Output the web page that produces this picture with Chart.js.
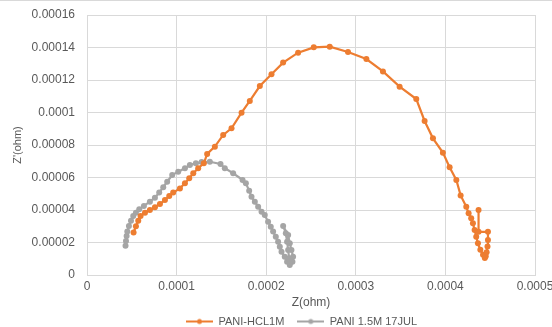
<!DOCTYPE html>
<html>
<head>
<meta charset="utf-8">
<script src="https://cdn.jsdelivr.net/npm/chart.js@4.4.0/dist/chart.umd.min.js"></script>
<style>
  html, body { margin: 0; padding: 0; background: #fff; }
  canvas { display: block; }
</style>
</head>
<body>
<canvas id="chart" width="552" height="327"></canvas>
<script>
// Nyquist plot, Z (ohm) vs Z' (ohm)
const hclName = 'PANI-HCL1M';
const hclX = [0.520e-4, 0.546e-4, 0.572e-4, 0.598e-4, 0.647e-4, 0.702e-4, 0.758e-4, 0.814e-4, 0.870e-4, 0.918e-4,
  0.962e-4, 1.037e-4, 1.093e-4, 1.141e-4, 1.186e-4, 1.241e-4, 1.304e-4, 1.341e-4, 1.427e-4, 1.520e-4,
  1.613e-4, 1.725e-4, 1.817e-4, 1.929e-4, 2.059e-4, 2.189e-4, 2.356e-4, 2.531e-4, 2.709e-4, 2.913e-4,
  3.118e-4, 3.303e-4, 3.489e-4, 3.675e-4, 3.768e-4, 3.861e-4, 3.972e-4, 4.047e-4, 4.122e-4, 4.170e-4,
  4.233e-4, 4.259e-4, 4.288e-4, 4.307e-4, 4.326e-4, 4.344e-4, 4.363e-4, 4.390e-4, 4.420e-4, 4.440e-4,
  4.450e-4, 4.460e-4, 4.470e-4, 4.475e-4, 4.475e-4, 4.370e-4, 4.370e-4];
const hclY = [2.62e-5, 3.00e-5, 3.34e-5, 3.63e-5, 3.83e-5, 4.00e-5, 4.17e-5, 4.37e-5, 4.62e-5, 4.86e-5,
  5.07e-5, 5.33e-5, 5.64e-5, 5.95e-5, 6.26e-5, 6.57e-5, 6.87e-5, 7.45e-5, 7.90e-5, 8.62e-5,
  9.03e-5, 9.99e-5, 10.71e-5, 11.63e-5, 12.35e-5, 13.07e-5, 13.68e-5, 14.01e-5, 14.05e-5, 13.72e-5,
  13.29e-5, 12.53e-5, 11.59e-5, 10.83e-5, 9.48e-5, 8.41e-5, 7.53e-5, 6.63e-5, 5.85e-5, 4.90e-5,
  4.20e-5, 3.80e-5, 3.49e-5, 3.18e-5, 2.77e-5, 2.36e-5, 1.95e-5, 1.55e-5, 1.25e-5, 1.05e-5,
  1.15e-5, 1.40e-5, 1.75e-5, 2.15e-5, 2.66e-5, 2.66e-5, 4.00e-5];

const paniName = 'PANI 1.5M 17JUL';
const paniX = [0.430e-4, 0.435e-4, 0.442e-4, 0.450e-4, 0.468e-4, 0.491e-4, 0.516e-4, 0.546e-4, 0.583e-4, 0.635e-4,
  0.702e-4, 0.758e-4, 0.806e-4, 0.851e-4, 0.895e-4, 0.951e-4, 1.018e-4, 1.093e-4, 1.148e-4, 1.215e-4,
  1.279e-4, 1.371e-4, 1.490e-4, 1.538e-4, 1.631e-4, 1.736e-4, 1.773e-4, 1.810e-4, 1.836e-4, 1.873e-4,
  1.910e-4, 1.948e-4, 1.984e-4, 2.021e-4, 2.051e-4, 2.077e-4, 2.107e-4, 2.133e-4, 2.152e-4, 2.171e-4,
  2.207e-4, 2.233e-4, 2.263e-4, 2.293e-4, 2.300e-4, 2.282e-4, 2.263e-4, 2.245e-4, 2.189e-4, 2.219e-4,
  2.233e-4, 2.245e-4, 2.256e-4, 2.263e-4];
const paniY = [1.80e-5, 2.10e-5, 2.40e-5, 2.67e-5, 3.02e-5, 3.34e-5, 3.63e-5, 3.83e-5, 4.04e-5, 4.25e-5,
  4.51e-5, 4.76e-5, 5.07e-5, 5.40e-5, 5.74e-5, 6.15e-5, 6.36e-5, 6.57e-5, 6.77e-5, 6.87e-5,
  6.95e-5, 6.97e-5, 6.83e-5, 6.57e-5, 6.26e-5, 5.85e-5, 5.64e-5, 5.19e-5, 4.82e-5, 4.51e-5,
  4.20e-5, 3.90e-5, 3.69e-5, 3.28e-5, 2.97e-5, 2.67e-5, 2.36e-5, 2.05e-5, 1.74e-5, 1.43e-5,
  1.13e-5, 0.82e-5, 0.62e-5, 0.82e-5, 1.13e-5, 1.54e-5, 1.95e-5, 2.46e-5, 3.02e-5, 2.57e-5,
  2.05e-5, 1.54e-5, 1.03e-5, 0.72e-5];

const xTicks = [0, 0.0001, 0.0002, 0.0003, 0.0004, 0.0005];
const xTickLabels = ['0', '0.0001', '0.0002', '0.0003', '0.0004', '0.0005'];
const yTicks = [0, 0.00002, 0.00004, 0.00006, 0.00008, 0.0001, 0.00012, 0.00014, 0.00016];
const yTickLabels = ['0', '0.00002', '0.00004', '0.00006', '0.00008', '0.0001', '0.00012', '0.00014', '0.00016'];

const orange = '#ED7D31';
const grey = '#A5A5A5';
const textColor = '#595959';
const gridColor = '#D9D9D9';
const fontFamily = '"Liberation Sans", Arial, sans-serif';

const toPoints = (xs, ys) => xs.map((x, i) => ({ x: x, y: ys[i] }));

// legend marker: short line with a dot, like the Excel legend
function legendIcon(color) {
    const c = document.createElement('canvas');
    c.width = 27;
    c.height = 8;
    const ctx = c.getContext('2d');
    ctx.strokeStyle = color;
    ctx.lineWidth = 2;
    ctx.beginPath();
    ctx.moveTo(0, 4);
    ctx.lineTo(27, 4);
    ctx.stroke();
    ctx.fillStyle = color;
    ctx.beginPath();
    ctx.arc(13.5, 4, 2.5, 0, Math.PI * 2);
    ctx.fill();
    return c;
}

const topBorder = {
    id: 'topBorder',
    afterDraw(chart) {
        const ctx = chart.ctx;
        ctx.save();
        ctx.strokeStyle = gridColor;
        ctx.lineWidth = 1;
        ctx.beginPath();
        ctx.moveTo(0, 0.5);
        ctx.lineTo(chart.width, 0.5);
        ctx.stroke();
        ctx.restore();
    }
};

// nudge the legend a little left of the plot centre, where Excel put it
const legendShift = {
    id: 'legendShift',
    afterLayout(chart) {
        if (chart.legend) {
            chart.legend.left -= 9.5;
            chart.legend.right -= 9.5;
        }
    }
};

const series = [
    { label: hclName, data: toPoints(hclX, hclY), color: orange },
    { label: paniName, data: toPoints(paniX, paniY), color: grey }
];

new Chart(document.getElementById('chart'), {
    type: 'scatter',
    data: {
        datasets: series.map(s => ({
            label: s.label,
            data: s.data,
            showLine: true,
            borderColor: s.color,
            backgroundColor: s.color,
            borderWidth: 2.2,
            pointRadius: 3,
            pointBorderWidth: 0,
            pointHoverRadius: 3,
            tension: 0
        }))
    },
    options: {
        responsive: false,
        animation: false,
        layout: { padding: { top: 15, right: 17, left: 0, bottom: -10 } },
        plugins: {
            tooltip: { enabled: false },
            legend: {
                position: 'bottom',
                fullSize: false,
                labels: {
                    color: textColor,
                    font: { family: fontFamily, size: 11 },
                    usePointStyle: true,
                    pointStyleWidth: 27,
                    padding: 13,
                    generateLabels(chart) {
                        const items = Chart.defaults.plugins.legend.labels.generateLabels(chart);
                        items.forEach((it, i) => { it.pointStyle = legendIcon(series[i].color); });
                        return items;
                    }
                }
            }
        },
        scales: {
            x: {
                type: 'linear',
                min: 0,
                max: 0.0005,
                afterBuildTicks(scale) { scale.ticks = xTicks.map(v => ({ value: v })); },
                afterFit(scale) {
                    scale.height = 28;
                    // let the last label spill past the edge, as in the original
                    scale.paddingLeft = 0;
                    scale.paddingRight = 0;
                },
                ticks: {
                    color: textColor,
                    font: { family: fontFamily, size: 12 },
                    padding: 4,
                    maxRotation: 0,
                    callback: (v, i) => xTickLabels[i]
                },
                grid: { color: gridColor, drawTicks: false },
                border: { color: gridColor },
                title: {
                    display: true,
                    text: 'Z(ohm)',
                    color: textColor,
                    font: { family: fontFamily, size: 12 },
                    padding: { top: 0, bottom: -6.5 }
                }
            },
            y: {
                type: 'linear',
                min: 0,
                max: 0.00016,
                afterBuildTicks(scale) { scale.ticks = yTicks.map(v => ({ value: v })); },
                afterFit(scale) {
                    scale.width = 87;
                    scale.paddingTop = 0;
                    scale.paddingBottom = 0;
                },
                ticks: {
                    color: textColor,
                    font: { family: fontFamily, size: 12 },
                    padding: 12,
                    callback: (v, i) => yTickLabels[i]
                },
                grid: { color: gridColor, drawTicks: false },
                border: { color: gridColor },
                title: {
                    display: true,
                    text: "Z'(ohm)",
                    color: textColor,
                    font: { family: fontFamily, size: 11 },
                    padding: { top: 11, bottom: 0 }
                }
            }
        }
    },
    plugins: [topBorder, legendShift]
});
</script>
</body>
</html>
